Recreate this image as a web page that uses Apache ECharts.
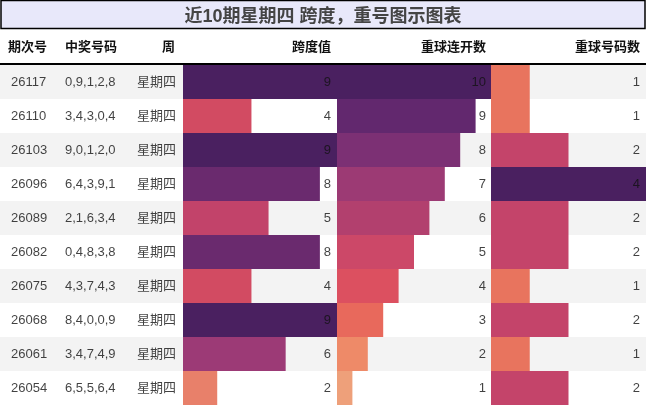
<!DOCTYPE html><html><head><meta charset="utf-8"><script src="https://cdn.jsdelivr.net/npm/echarts@6/dist/echarts.min.js"></script>
<style>html,body{margin:0;padding:0;background:#fff}#c{width:646px;height:406px}</style></head><body><div id="c"></div><script>
const issues=['26117','26110','26103','26096','26089','26082','26075','26068','26061','26054'];
const numbers=['0,9,1,2,8','3,4,3,0,4','9,0,1,2,0','6,4,3,9,1','2,1,6,3,4','0,4,8,3,8','4,3,7,4,3','8,4,0,0,9','3,4,7,4,9','6,5,5,6,4'];
const weekdays=['星期四','星期四','星期四','星期四','星期四','星期四','星期四','星期四','星期四','星期四'];
const spans=[9,4,9,8,5,8,4,9,6,2];
const repeatRuns=[10,9,8,7,6,5,4,3,2,1];
const repeatCounts=[1,1,2,4,2,2,1,2,1,2];
const headers=['期次号','中奖号码','周','跨度值','重球连开数','重球号码数'];
const title='近10期星期四 跨度，重号图示图表';

const spanCol={2:'#e8806a',4:'#d24b62',5:'#c2436a',6:'#9c3a76',8:'#6a2a6e',9:'#4a2060'};
const runCol={1:'#eea07a',2:'#ee8a68',3:'#e8695c',4:'#dc5060',5:'#cc4868',6:'#b2406e',7:'#9c3a74',8:'#7c3074',9:'#62286e',10:'#4a2060'};
const cntCol={1:'#e8745e',2:'#c4446a',4:'#4a2060'};
const cats=issues.map((_,i)=>i);
const chart=echarts.init(document.getElementById('c'));
function txt(x,arr,align,bold){return {type:'scatter',xAxisIndex:0,yAxisIndex:0,symbolSize:0,z:10,silent:true,
 data:arr.map((v,i)=>({value:[x,i],label:{show:true,formatter:String(v),position:'inside',align:align,color:'#111',fontSize:13,fontFamily:'Liberation Sans, Noto Sans CJK SC',fontWeight:bold?'bold':'normal'}}))};}
function bar(idx,arr,cm){return {type:'bar',xAxisIndex:idx,yAxisIndex:idx,barWidth:'100%',z:3,silent:true,
 data:arr.map(v=>({value:v,itemStyle:{color:cm[v]}}))};}
const hdrY=[{pos:8,a:'left'},{pos:65,a:'left'},{pos:175,a:'right'},{pos:331,a:'right'},{pos:486,a:'right'},{pos:640,a:'right'}];
chart.setOption({
 animation:false,
 title:{text:title,left:'center',top:3,textStyle:{fontSize:18,fontWeight:'bold',color:'#444',fontFamily:'Liberation Sans, Noto Sans CJK SC'}},
 graphic:[{type:'rect',shape:{x:1,y:0.5,width:644,height:28},style:{fill:'#e8e8fa',stroke:'#000',lineWidth:1.5},z:-1},
  {type:'line',shape:{x1:0,y1:64,x2:646,y2:64},style:{stroke:'#000',lineWidth:2},z:20},
  ...headers.map((h,i)=>({type:'text',x:hdrY[i].pos,y:47,style:{text:h,textAlign:hdrY[i].a,textVerticalAlign:'middle',font:'bold 13px Liberation Sans, Noto Sans CJK SC',fill:'#111'}}))],
 grid:[{left:0,right:0,top:65,height:340},{left:183,width:154,top:65,height:340},{left:337,width:154,top:65,height:340},{left:491,width:155,top:65,height:340}],
 xAxis:[{type:'value',min:0,max:646,show:false,gridIndex:0},{type:'value',min:0,max:9,show:false,gridIndex:1},{type:'value',min:0,max:10,show:false,gridIndex:2},{type:'value',min:0,max:4,show:false,gridIndex:3}],
 yAxis:[0,1,2,3].map(g=>({type:'category',data:cats,inverse:true,gridIndex:g,axisLine:{show:false},axisTick:{show:false},axisLabel:{show:false},
   splitArea:{show:g===0,areaStyle:{color:['#f3f3f3','#ffffff']}}})),
 series:[bar(1,spans,spanCol),bar(2,repeatRuns,runCol),bar(3,repeatCounts,cntCol),
  txt(11,issues,'left'),txt(65,numbers,'left'),txt(176,weekdays,'right'),
  txt(331,spans,'right'),txt(486,repeatRuns,'right'),txt(640,repeatCounts,'right')]
});
</script></body></html>
